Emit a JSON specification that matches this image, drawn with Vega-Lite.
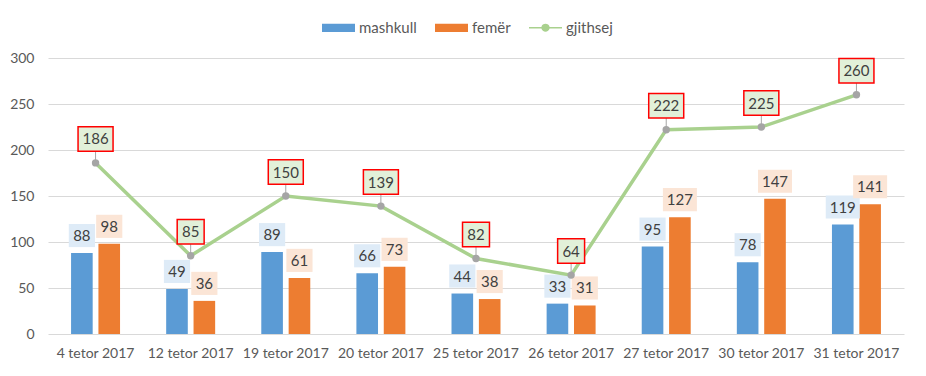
{
  "$schema": "https://vega.github.io/schema/vega-lite/v6.json",
  "width": 856,
  "height": 276,
  "autosize": {"type": "none"},
  "padding": {"left": 48, "top": 58, "right": 22, "bottom": 42},
  "background": "#ffffff",
  "config": {
    "font": "Lato",
    "view": {"stroke": null},
    "axis": {"labelFont": "Lato", "labelFontSize": 14, "labelColor": "#595959"}
  },
  "datasets": {
    "bars": [
      {"date": "4 tetor 2017", "series": "mashkull", "value": 88},
      {"date": "4 tetor 2017", "series": "femër", "value": 98},
      {"date": "12 tetor 2017", "series": "mashkull", "value": 49},
      {"date": "12 tetor 2017", "series": "femër", "value": 36},
      {"date": "19 tetor 2017", "series": "mashkull", "value": 89},
      {"date": "19 tetor 2017", "series": "femër", "value": 61},
      {"date": "20 tetor 2017", "series": "mashkull", "value": 66},
      {"date": "20 tetor 2017", "series": "femër", "value": 73},
      {"date": "25 tetor 2017", "series": "mashkull", "value": 44},
      {"date": "25 tetor 2017", "series": "femër", "value": 38},
      {"date": "26 tetor 2017", "series": "mashkull", "value": 33},
      {"date": "26 tetor 2017", "series": "femër", "value": 31},
      {"date": "27 tetor 2017", "series": "mashkull", "value": 95},
      {"date": "27 tetor 2017", "series": "femër", "value": 127},
      {"date": "30 tetor 2017", "series": "mashkull", "value": 78},
      {"date": "30 tetor 2017", "series": "femër", "value": 147},
      {"date": "31 tetor 2017", "series": "mashkull", "value": 119},
      {"date": "31 tetor 2017", "series": "femër", "value": 141}
    ],
    "totals": [
      {"date": "4 tetor 2017", "series": "gjithsej", "value": 186},
      {"date": "12 tetor 2017", "series": "gjithsej", "value": 85},
      {"date": "19 tetor 2017", "series": "gjithsej", "value": 150},
      {"date": "20 tetor 2017", "series": "gjithsej", "value": 139},
      {"date": "25 tetor 2017", "series": "gjithsej", "value": 82},
      {"date": "26 tetor 2017", "series": "gjithsej", "value": 64},
      {"date": "27 tetor 2017", "series": "gjithsej", "value": 222},
      {"date": "30 tetor 2017", "series": "gjithsej", "value": 225},
      {"date": "31 tetor 2017", "series": "gjithsej", "value": 260}
    ]
  },
  "encoding": {
    "x": {
      "field": "date", "type": "nominal", "sort": null,
      "scale": {"paddingInner": 0.485, "paddingOuter": 0.2425},
      "axis": {"title": null, "labelAngle": 0, "ticks": false, "domain": false, "labelPadding": 12}
    }
  },
  "layer": [
    {
      "data": {"name": "bars"},
      "mark": {"type": "bar"},
      "encoding": {
        "xOffset": {"field": "series", "type": "nominal", "sort": ["mashkull", "femër"], "scale": {"paddingInner": 0.21, "paddingOuter": 0}},
        "y": {
          "field": "value", "type": "quantitative",
          "scale": {"domain": [0, 300], "nice": false},
          "axis": {"title": null, "values": [0, 50, 100, 150, 200, 250, 300], "ticks": false, "domain": false, "labelPadding": 14, "gridColor": "#d9d9d9", "gridWidth": 1}
        },
        "color": {
          "field": "series", "type": "nominal",
          "scale": {"domain": ["mashkull", "femër", "gjithsej"], "range": ["#5b9bd5", "#ed7d31", "#a9d18e"]},
          "legend": {
            "title": null, "orient": "none", "direction": "horizontal",
            "legendX": 274, "legendY": -47,
            "labelFontSize": 15, "labelColor": "#595959", "labelFont": "Lato",
            "symbolSize": 1089, "labelOffset": 4, "columnPadding": 18,
            "symbolStrokeWidth": 0,
            "encode": {
              "symbols": {
                "update": {
                  "shape": {"signal": "datum.value === 'gjithsej' ? 'M-1,-0.05H-0.25A0.26,0.26 0 0,1 0.25,-0.05H1V0.05H0.25A0.26,0.26 0 0,1 -0.25,0.05H-1Z' : 'M-1,-0.25H1V0.25H-1Z'"},
                  "fill": {"signal": "datum.value === 'gjithsej' ? '#a9d18e' : (datum.value === 'mashkull' ? '#5b9bd5' : '#ed7d31')"},
                  "opacity": {"value": 1},
                  "strokeWidth": {"value": 0}
                }
              }
            }
          }
        }
      }
    },
    {
      "data": {"name": "bars"},
      "mark": {"type": "point", "filled": true, "yOffset": -17.5, "size": 1156, "opacity": 1},
      "encoding": {
        "xOffset": {"field": "series", "type": "nominal", "sort": ["mashkull", "femër"]},
        "y": {"field": "value", "type": "quantitative"},
        "shape": {"condition": {"test": "datum.value >= 100", "value": "M-1,-0.68H1V0.68H-1Z"}, "value": "M-0.77,-0.68H0.77V0.68H-0.77Z"},
        "fill": {"condition": {"test": "datum.series === 'mashkull'", "value": "#deebf7"}, "value": "#fbe5d6"}
      }
    },
    {
      "data": {"name": "bars"},
      "mark": {"type": "text", "yOffset": -17, "fontSize": 15, "color": "#404040", "font": "Lato"},
      "encoding": {
        "xOffset": {"field": "series", "type": "nominal", "sort": ["mashkull", "femër"]},
        "y": {"field": "value", "type": "quantitative"},
        "text": {"field": "value", "type": "quantitative"}
      }
    },
    {
      "data": {"name": "totals"},
      "mark": {"type": "line", "strokeWidth": 3.5, "color": "#a9d18e"},
      "encoding": {
        "y": {"field": "value", "type": "quantitative"},
        "color": {"field": "series", "type": "nominal"}
      }
    },
    {
      "data": {"name": "totals"},
      "mark": {"type": "rule", "color": "#a6a6a6", "strokeWidth": 1, "y2Offset": -12},
      "encoding": {
        "y": {"field": "value", "type": "quantitative"},
        "y2": {"field": "value"}
      }
    },
    {
      "data": {"name": "totals"},
      "mark": {"type": "point", "filled": true, "color": "#a5a5a5", "size": 55, "opacity": 1},
      "encoding": {
        "y": {"field": "value", "type": "quantitative"}
      }
    },
    {
      "data": {"name": "totals"},
      "mark": {"type": "point", "filled": false, "yOffset": -24, "size": 1225, "opacity": 1, "fill": "#e2f0d9", "stroke": "#ff0000", "strokeWidth": 1.5},
      "encoding": {
        "y": {"field": "value", "type": "quantitative"},
        "shape": {"condition": {"test": "datum.value >= 100", "value": "M-1,-0.7H1V0.7H-1Z"}, "value": "M-0.77,-0.7H0.77V0.7H-0.77Z"}
      }
    },
    {
      "data": {"name": "totals"},
      "mark": {"type": "text", "yOffset": -23.5, "fontSize": 15, "color": "#404040", "font": "Lato"},
      "encoding": {
        "y": {"field": "value", "type": "quantitative"},
        "text": {"field": "value", "type": "quantitative"}
      }
    }
  ]
}
